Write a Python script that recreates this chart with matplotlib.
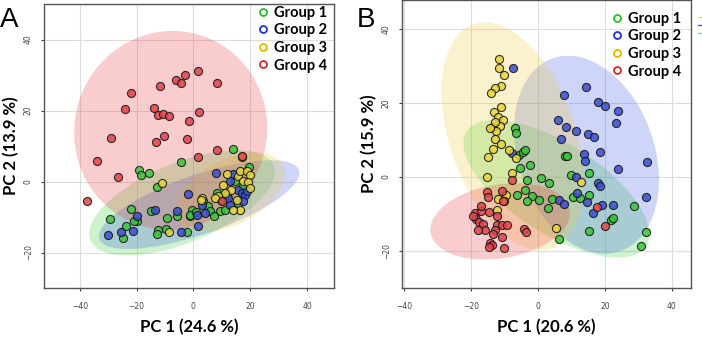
"""
PCA score plots, two panels (A, B) with group confidence ellipses.
"""
import numpy as np
import matplotlib
matplotlib.use("Agg")
import matplotlib.pyplot as plt
from matplotlib.patches import Ellipse
from matplotlib.lines import Line2D

groups = ["Group 1", "Group 2", "Group 3", "Group 4"]
point_colors = ["#3cc43c", "#3a4fd0", "#e8d43a", "#e0444c"]
legend_colors = ["#22c422", "#2030c8", "#e0b800", "#d82828"]
fill_colors = ["#30d030", "#3a50ea", "#f2cc30", "#ea3034"]

# ---- Panel A scores ----
a_g1_x = [13.8, -4.5, -19.2, -18.3, -15.6, -12.7, 19.5, 14.6, 17.5, 12.0, 8.2, 9.7, 15.8,
          3.5, 5.0, 5.8, -0.6, -1.2, 9.3, 11.1, 7.3, -21.8, -20.0, -20.8, -15.0, -29.4,
          -23.8, -24.9, -9.2, -5.7, -12.4, -12.7, -9.7, -2.4, -1.2, 0.9, 11.7]
a_g1_y = [9.2, 5.5, 3.2, 1.8, 2.3, -1.5, 4.1, 0.1, -1.3, -3.7, -3.2, -5.1, -6.0,
          -5.5, -6.9, -8.4, -7.9, -9.8, -8.4, -7.9, -9.6, -7.7, -11.2, -11.0, -8.4, -10.7,
          -12.4, -15.9, -10.4, -9.8, -13.7, -14.9, -13.5, -14.2, -9.3, -8.6, -3.7]
a_g2_x = [7.8, 14.0, 12.9, 15.8, 17.0, 18.1, 18.7, 12.3, 17.5, 12.9, 2.9, 4.0, 1.1,
          -1.8, 1.7, -19.7, -13.4, -30.0, -25.6, -21.4, -5.9, -4.5]
a_g2_y = [2.3, 2.2, 0.1, -2.3, -3.2, -3.7, -2.7, -4.6, -5.5, -6.5, -6.5, -8.8, -9.3,
          -3.5, -12.4, -9.6, -7.9, -15.1, -14.2, -14.0, -8.4, -14.1]
a_g3_x = [17.0, 11.7, 15.8, 16.4, 18.7, 19.9, 17.5, 19.3, 19.9, 13.4, 11.1, 8.7, 7.6,
          15.2, 16.4, 14.0, 2.9, 2.5, -10.9, -8.5, 10.5]
a_g3_y = [6.8, 2.0, 1.5, 2.9, 2.9, 1.7, 0.1, -0.2, -1.8, -2.3, -3.2, -4.1, -4.6,
          -5.1, -7.9, -7.9, -4.6, -5.2, -0.4, -14.2, -1.1]
a_g4_x = [1.5, -2.9, -6.3, -4.2, 8.2, -11.8, -22.0, -13.9, -24.2, 1.9, -12.5, -10.7,
          -8.5, -1.6, -28.9, -10.4, -2.3, -13.3, -34.1, 1.7, 8.2, -26.7, -37.6, 17.0, 9.9]
a_g4_y = [31.1, 29.9, 28.7, 27.8, 27.8, 26.9, 24.8, 20.7, 20.3, 19.5, 18.6, 19.1,
          18.4, 17.0, 12.3, 12.8, 12.0, 11.1, 5.8, 6.9, 9.0, 1.3, -5.6, 7.3, -5.5]

# ellipses: centre x, centre y, width, height, angle (data units)
a_ell = [(-4.0, -6.0, 68, 23, 17),
         (2.0, -6.5, 73, 17, 15),
         (13.0, -3.0, 40, 19, 20),
         (-8.0, 14.4, 68, 56, 3)]

# ---- Panel B scores ----
b_g1_x = [-6.9, -6.7, -5.6, -4.6, -4.0, -2.4, -5.3, -3.3, 0.8, 3.2, -6.3, -4.0, -1.8,
          -3.4, 0.4, 4.2, 3.1, 9.9, 10.4, 12.5, 15.3, 15.3, 15.3, 6.4, 8.1, 8.8, 21.8,
          28.8, 32.2, 30.8, 22.3]
b_g1_y = [13.2, 12.0, 5.9, 6.8, 7.3, 3.1, 2.5, -0.8, -0.4, -1.7, -4.9, -3.5, -5.1,
          -6.5, -6.2, -6.0, -8.3, 0.5, -5.3, -5.8, 1.0, -5.0, -14.6, -16.8, 5.7, 5.7, -11.6,
          -7.8, -15.0, -18.6, -11.0]
b_g2_x = [-7.4, 14.4, 7.9, 18.0, 20.1, 24.0, 23.3, 6.0, 8.4, 11.3, 14.8, 16.8, 6.9,
          18.5, 13.6, 14.1, 32.5, 24.0, -7.7, 11.5, 17.8, 18.6, 11.8, 14.5, 6.4, 7.8,
          19.0, 22.5, 16.3, 32.4]
b_g2_y = [29.5, 24.2, 22.2, 20.2, 19.2, 17.9, 14.5, 15.4, 13.6, 12.3, 11.5, 10.7, 10.2,
          6.8, 6.2, 4.3, 4.0, 2.1, 6.4, 0.1, -1.7, -2.4, -4.4, -6.8, -6.2, -7.3,
          -7.7, -7.6, -9.8, -5.5]
b_g3_x = [-11.5, -11.5, -10.2, -11.0, -12.8, -14.0, -11.0, -13.2, -12.0, -10.5, -13.5,
          -11.3, -12.5, -12.8, -11.0, -13.5, -14.8, -8.6, -7.9, -15.2, -9.6, -11.8,
          -10.2, -12.2, 5.5, 13.0, -12.9, -14.2, -6.5]
b_g3_y = [31.8, 29.5, 27.6, 24.6, 24.0, 22.6, 18.8, 17.5, 16.3, 15.4, 13.4, 13.8,
          12.3, 10.2, 8.9, 7.5, 5.5, 7.3, 1.2, -0.1, -4.9, -6.0, -6.4, -8.9, -13.9,
          -1.5, 14.8, 13.1, 5.0]
b_g4_x = [-7.8, -15.3, -14.8, -10.8, -10.3, -14.7, -18.8, -17.0, -18.5, -17.5, -16.5,
          -15.7, -17.8, -12.3, -12.2, -10.8, -9.2, -12.9, -10.6, -13.3, -14.4, -13.6,
          -10.1, -14.5, -4.3, -3.7, 17.5, 20.1, -19.5, -16.9]
b_g4_y = [-0.8, -4.2, -5.5, -3.7, -6.4, -9.4, -9.8, -9.1, -11.3, -12.3, -12.7, -14.3,
          -14.3, -10.5, -13.1, -13.1, -13.1, -14.3, -16.3, -15.4, -17.9, -18.3, -19.3,
          -18.9, -14.1, -14.8, -8.2, -13.2, -10.6, -7.9]

b_ell = [(5.5, -3.2, 62, 25, -29),
         (14.5, 6.0, 56, 40, 115),
         (-7.6, 11.0, 65, 37, 113),
         (-11.3, -12.0, 42, 20, 8)]


def draw_panel(ax, xs, ys, ells, xlim, ylim, xlabel, ylabel, leg_anchor):
    for (cx, cy, w, h, ang), fc in zip(ells, fill_colors):
        ax.add_patch(Ellipse((cx, cy), w, h, angle=ang, facecolor=fc,
                             edgecolor="none", alpha=0.24, zorder=1))
    for x, y, c in zip(xs, ys, point_colors):
        ax.scatter(x, y, s=34, color=c, edgecolor="#111111", linewidth=0.8,
                   alpha=0.85, zorder=3)

    ax.set_xlim(*xlim)
    ax.set_ylim(*ylim)
    ax.set_xticks([-40, -20, 0, 20, 40])
    ax.set_yticks([-20, 0, 20, 40])
    ax.grid(True, color="#dddddd", linewidth=0.8, zorder=0)
    ax.set_axisbelow(True)
    for sp in ax.spines.values():
        sp.set_color("#555555")
        sp.set_linewidth(1.0)
    ax.tick_params(axis="x", labelsize=5.5, colors="#444444", length=2, pad=8)
    ax.tick_params(axis="y", labelsize=5.5, colors="#444444", length=2, pad=6)
    for lab in ax.get_yticklabels():
        lab.set_rotation(90)
        lab.set_va("center")

    ax.set_xlabel(xlabel, fontsize=12, fontweight="bold", family="Lato", labelpad=6)
    ax.set_ylabel(ylabel, fontsize=12, fontweight="bold", family="Lato", labelpad=3)

    handles = [Line2D([], [], marker="o", linestyle="none", markersize=5,
                      markerfacecolor="none", markeredgecolor=c, markeredgewidth=1.3)
               for c in legend_colors]
    ax.legend(handles, groups, loc="upper right", bbox_to_anchor=leg_anchor,
              frameon=False, handletextpad=0.25, labelspacing=0.25,
              handlelength=1.0, borderaxespad=0.1,
              prop={"family": "Lato", "weight": "bold", "size": 10.5})


fig = plt.figure(figsize=(7.02, 3.39), dpi=100)
axA = fig.add_axes([44 / 702, 51 / 339, 290 / 702, 284 / 339])
axB = fig.add_axes([402 / 702, 51 / 339, 289 / 702, 288 / 339])

draw_panel(axA, [a_g1_x, a_g2_x, a_g3_x, a_g4_x], [a_g1_y, a_g2_y, a_g3_y, a_g4_y],
           a_ell, (-52.6, 49.5), (-30, 50), "PC 1 (24.6 %)", "PC 2 (13.9 %)",
           (1.0, 1.02))
draw_panel(axB, [b_g1_x, b_g2_x, b_g3_x, b_g4_x], [b_g1_y, b_g2_y, b_g3_y, b_g4_y],
           b_ell, (-40.6, 45.7), (-30, 47.8), "PC 1 (20.6 %)", "PC 2 (15.9 %)",
           (0.99, 0.985))

fig.text(0.0, 0.98, "A", fontsize=20, ha="left", va="top", family="Liberation Sans")
fig.text(357 / 702, 0.98, "B", fontsize=20, ha="left", va="top", family="Liberation Sans")

# leftover marks at the right edge of panel B
for yy, c in zip([17, 25, 33], ["#f0d060", "#5060d0", "#70d0e0"]):
    fig.add_artist(Line2D([698 / 702, 701 / 702], [1 - yy / 339, 1 - yy / 339],
                          color=c, linewidth=1.0))

fig.savefig("out.png", dpi=100)
